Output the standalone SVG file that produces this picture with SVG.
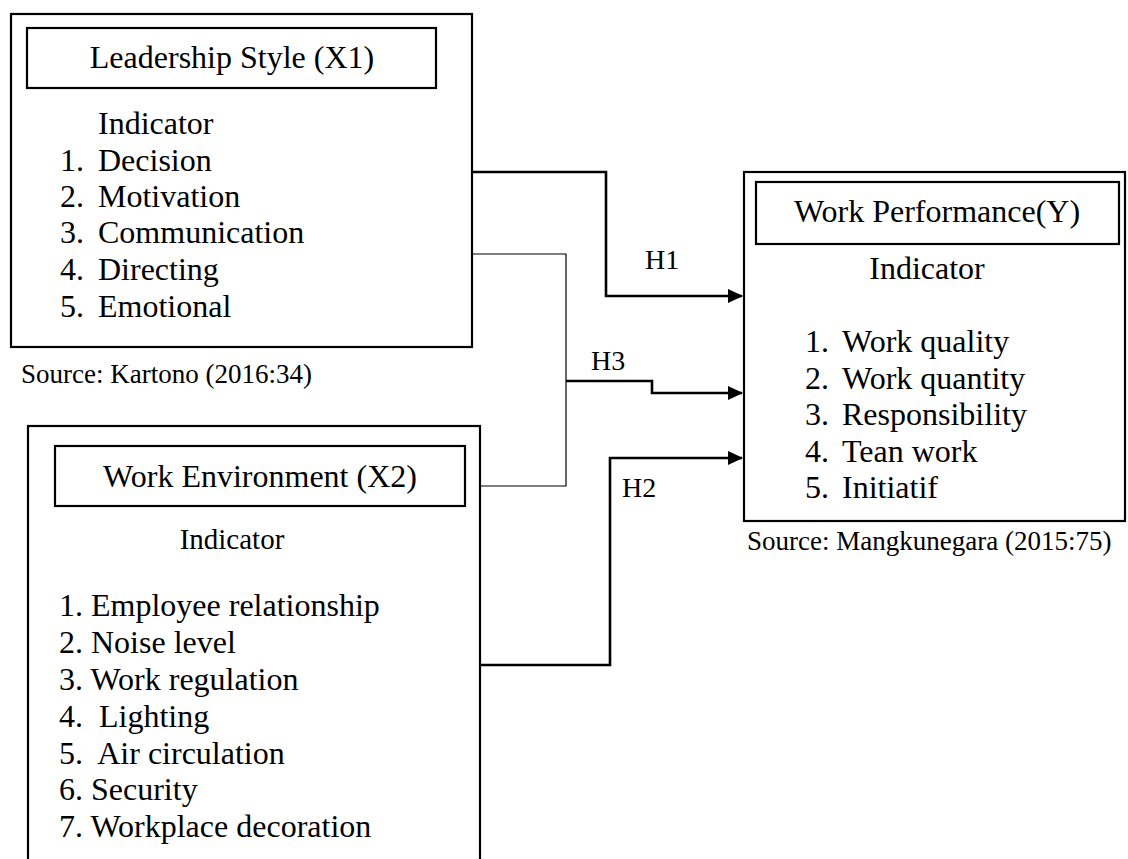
<svg xmlns="http://www.w3.org/2000/svg" width="1128" height="859" viewBox="0 0 1128 859">
<defs>
<style>
text{font-family:"Liberation Serif","Times New Roman",serif;fill:#000}
.t{font-size:32px}
.s{font-size:27px}
.h{font-size:28px}
.c{text-anchor:middle}
.box{fill:#fff;stroke:#000;stroke-width:2.2}
.thick{fill:none;stroke:#000;stroke-width:2.6}
.thin{fill:none;stroke:#000;stroke-width:1.2}
</style>
<marker id="arr" markerUnits="userSpaceOnUse" markerWidth="16" markerHeight="16" refX="14" refY="7" orient="auto">
<path d="M0,0 L15,7 L0,14 Z" fill="#000"/>
</marker>
</defs>
<rect width="1128" height="859" fill="#fff"/>
<g id="connectors">
<path class="thick" d="M468,172 H606 V296 H742" marker-end="url(#arr)"/>
<path class="thin" d="M472,254 H566 V486 H481"/>
<path class="thick" d="M566,381 H652 V393 H742" marker-end="url(#arr)"/>
<path class="thick" d="M481,665 H610 V458 H742" marker-end="url(#arr)"/>
<text class="h" x="645" y="269">H1</text>
<text class="h" x="591" y="370">H3</text>
<text class="h" x="622" y="497">H2</text>
</g>
<g id="leadership">
<rect class="box" x="11" y="14" width="461" height="333"/>
<rect class="box" x="27" y="28" width="409" height="60"/>
<text class="t c" x="232" y="68">Leadership Style (X1)</text>
<text class="t" x="98" y="134">Indicator</text>
<text class="t" x="60" y="171">1.</text><text class="t" x="98" y="171">Decision</text>
<text class="t" x="60" y="207">2.</text><text class="t" x="98" y="207">Motivation</text>
<text class="t" x="60" y="243">3.</text><text class="t" x="98" y="243">Communication</text>
<text class="t" x="60" y="280">4.</text><text class="t" x="98" y="280">Directing</text>
<text class="t" x="60" y="317">5.</text><text class="t" x="98" y="317">Emotional</text>
<text class="s" x="21" y="383">Source: Kartono (2016:34)</text>
</g>
<g id="environment">
<rect class="box" x="28" y="426" width="452" height="450"/>
<rect class="box" x="55" y="446" width="410" height="60"/>
<text class="t c" x="260" y="487">Work Environment (X2)</text>
<text class="s c" x="232" y="549" style="font-size:29px">Indicator</text>
<text class="t" x="59" y="616" xml:space="preserve">1. Employee relationship</text>
<text class="t" x="59" y="653" xml:space="preserve">2. Noise level</text>
<text class="t" x="59" y="690" xml:space="preserve">3. Work regulation</text>
<text class="t" x="59" y="727" xml:space="preserve">4.  Lighting</text>
<text class="t" x="59" y="764" xml:space="preserve">5.  Air circulation</text>
<text class="t" x="59" y="800" xml:space="preserve">6. Security</text>
<text class="t" x="59" y="837" xml:space="preserve">7. Workplace decoration</text>
</g>
<g id="performance">
<rect class="box" x="744" y="172" width="381" height="349"/>
<rect class="box" x="756" y="182" width="363" height="62"/>
<text class="t c" x="937" y="222">Work Performance(Y)</text>
<text class="t c" x="927" y="279">Indicator</text>
<text class="t" x="805" y="352">1.</text><text class="t" x="842" y="352">Work quality</text>
<text class="t" x="805" y="389">2.</text><text class="t" x="842" y="389">Work quantity</text>
<text class="t" x="805" y="425">3.</text><text class="t" x="842" y="425">Responsibility</text>
<text class="t" x="805" y="462">4.</text><text class="t" x="842" y="462">Tean work</text>
<text class="t" x="805" y="498">5.</text><text class="t" x="842" y="498">Initiatif</text>
<text class="s" x="747" y="550">Source: Mangkunegara (2015:75)</text>
</g>
</svg>
